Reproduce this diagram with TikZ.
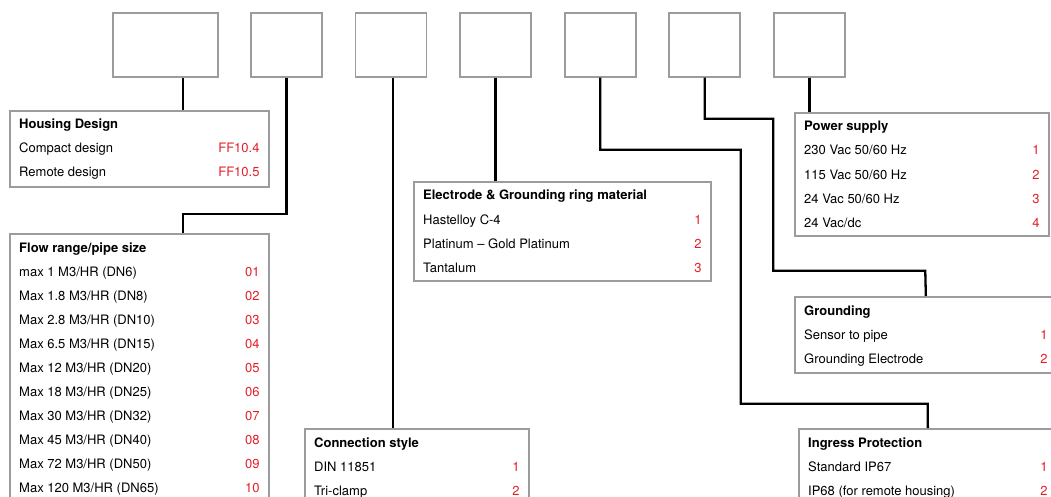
\documentclass[tikz,border=0pt]{standalone}
\usepackage{fontspec}
\setmainfont{TeX Gyre Heros}
\definecolor{boxgrey}{RGB}{155,155,160}
\definecolor{codered}{RGB}{226,32,40}
\tikzset{
  slot/.style={draw=boxgrey,line width=1.7pt,minimum width=71pt,minimum height=64pt,inner sep=0pt,anchor=north west},
  optbox/.style={draw=boxgrey,line width=1.7pt,fill=white,inner sep=0pt,anchor=north west},
  head/.style={anchor=base west,inner sep=0pt,font=\fontsize{13}{15}\selectfont\bfseries},
  item/.style={anchor=base west,inner sep=0pt,font=\fontsize{13}{15}\selectfont},
  code/.style={anchor=base east,inner sep=0pt,text=codered,font=\fontsize{13}{15}\selectfont},
  wire/.style={line width=2.3pt}
}
\newcommand\fillbox[3]{%
  \node[head] (#1-head) at ([shift={(10,19)}]#1.north west) {#2};
  \foreach \optxt/\opcode [count=\i] in {#3} {
    \node[item] (#1-item\i) at ([shift={(10,19+24*\i)}]#1.north west) {\optxt};
    \node[code] (#1-code\i) at ([shift={(-10,19+24*\i)}]#1.north east) {\opcode};
  }
}
\begin{document}
\begin{tikzpicture}[x=1pt,y=-1pt]
\clip (0,0) rectangle (1051,497);
\fill[white] (0,0) rectangle (1051,497);

\node[slot,minimum width=105pt] (slot1) at (112,12) {};
\foreach \i in {2,...,7}
  \node[slot] (slot\i) at ({250+104.6*(\i-2)},12) {};

\node[optbox,minimum width=259pt,minimum height=76pt] (housing) at (9,110) {};
\node[optbox,minimum width=259pt,minimum height=267pt] (flow) at (9,233) {};
\node[optbox,minimum width=297pt,minimum height=99pt] (electrode) at (413,181) {};
\node[optbox,minimum width=224pt,minimum height=75pt] (conn) at (304,428) {};
\node[optbox,minimum width=254pt,minimum height=123pt] (power) at (794,112) {};
\node[optbox,minimum width=262pt,minimum height=76pt] (grounding) at (794,296) {};
\node[optbox,minimum width=258pt,minimum height=75pt] (ingress) at (798,428) {};

\fillbox{housing}{Housing Design}{{Compact design}/FF10.4,{Remote design}/FF10.5}
\fillbox{flow}{Flow range/pipe size}{{max 1 M3/HR (DN6)}/01,{Max 1.8 M3/HR (DN8)}/02,
  {Max 2.8 M3/HR (DN10)}/03,{Max 6.5 M3/HR (DN15)}/04,{Max 12 M3/HR (DN20)}/05,
  {Max 18 M3/HR (DN25)}/06,{Max 30 M3/HR (DN32)}/07,{Max 45 M3/HR (DN40)}/08,
  {Max 72 M3/HR (DN50)}/09,{Max 120 M3/HR (DN65)}/10}
\fillbox{electrode}{Electrode \& Grounding ring material}{{Hastelloy C-4}/1,
  {Platinum – Gold Platinum}/2,{Tantalum}/3}
\fillbox{conn}{Connection style}{{DIN 11851}/1,{Tri-clamp}/2}
\fillbox{power}{Power supply}{{230 Vac 50/60 Hz}/1,{115 Vac 50/60 Hz}/2,
  {24 Vac 50/60 Hz}/3,{24 Vac/dc}/4}
\fillbox{grounding}{Grounding}{{Sensor to pipe}/1,{Grounding Electrode}/2}
\fillbox{ingress}{Ingress Protection}{{Standard IP67}/1,{IP68 (for remote housing)}/2}

\draw[wire] ([xshift=17.5]slot1.south) -- ([xshift=17.5]slot1.south |- housing.north);
\draw[wire] (slot2.south) -- ++(0,136) -| ([xshift=43.5]flow.north);
\draw[wire] ([xshift=2]slot3.south) -- ([xshift=2]slot3.south |- conn.north);
\draw[wire] (slot4.south) -- (slot4.south |- electrode.north);
\draw[wire] (slot5.south) |- ++(140.5,72) |- ++(187,254) -- (ingress.north);
\draw[wire] (slot6.south) |- ++(68.5,41) |- ++(152,152) -- (grounding.north);
\draw[wire] (slot7.south) -- (slot7.south |- power.north);
\end{tikzpicture}
\end{document}
